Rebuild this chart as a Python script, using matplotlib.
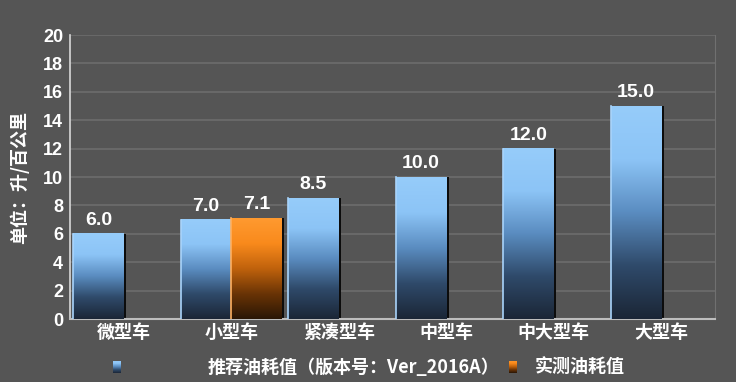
import numpy as np
import matplotlib
matplotlib.use("Agg")
import matplotlib.pyplot as plt
from matplotlib.colors import LinearSegmentedColormap
from matplotlib.patches import Rectangle

categories = ["微型车", "小型车", "紧凑型车", "中型车", "中大型车", "大型车"]
recommended = [6.0, 7.0, 8.5, 10.0, 12.0, 15.0]
measured = [None, 7.1, None, None, None, None]
series_names = ["推荐油耗值（版本号：Ver_2016A）", "实测油耗值"]
yticks = [0, 2, 4, 6, 8, 10, 12, 14, 16, 18, 20]
ylabel = "单位：升/百公里"

bg = "#555555"
cjk = ["Noto Sans CJK SC", "DejaVu Sans"]
num = ["Liberation Sans", "DejaVu Sans"]

blue_cmap = LinearSegmentedColormap.from_list(
    "b", ["#1b2636", "#2f4a6a", "#5a8cc0", "#8cc4f6", "#96ccfa"])
orange_cmap = LinearSegmentedColormap.from_list(
    "o", ["#2a1605", "#6a3406", "#c0620c", "#f98a1c", "#ff9a30"])

fig = plt.figure(figsize=(7.36, 3.82), dpi=100, facecolor=bg)
ax = fig.add_axes([70 / 736, 63 / 382, 645 / 736, 284 / 382])
ax.set_facecolor(bg)

x = np.arange(len(categories))
w = 0.47
grad = np.linspace(0, 1, 256).reshape(-1, 1)


def draw_bar(xc, h, cmap):
    left = xc - w / 2
    # shadow on the right side
    ax.add_patch(Rectangle((left + 0.025, 0), w, h, color="#0c0c0c",
                           zorder=2, linewidth=0))
    ax.imshow(grad, cmap=cmap, origin="lower", aspect="auto",
              extent=(left, left + w, 0, h), zorder=3)
    ax.plot([left, left], [0, h], color="#a9d4fb" if cmap is blue_cmap else "#ffb060",
            lw=1.2, zorder=4)
    ax.text(xc, h + 0.35, f"{h:.1f}", ha="center", va="bottom", color="white",
            fontsize=14, fontweight="bold", family=num, zorder=5)


for i, v in enumerate(recommended):
    draw_bar(x[i] - w / 2, v, blue_cmap)
for i, v in enumerate(measured):
    if v is not None:
        draw_bar(x[i] + w / 2, v, orange_cmap)

ax.set_xlim(-0.5, len(categories) - 0.5)
ax.set_ylim(0, 20)
ax.set_yticks(yticks)
ax.set_yticklabels([str(t) for t in yticks], color="white", fontsize=13,
                   fontweight="bold", family=num)
ax.set_xticks(x)
ax.set_xticklabels(categories, color="white", fontsize=13, fontweight="bold",
                   family=cjk)
ax.tick_params(length=0, pad=3)
ax.tick_params(axis="y", pad=5)
ax.yaxis.grid(True, color="#6c6c6c", lw=1.2, zorder=0)
ax.set_axisbelow(True)
ax.spines["top"].set_visible(False)
ax.spines["left"].set_color("#d8d8d8")
ax.spines["bottom"].set_color("#bdbdbd")
ax.spines["right"].set_color("#707070")
ax.spines["left"].set_linewidth(1.2)
ax.spines["bottom"].set_linewidth(1.5)

fig.text(19 / 736, 1 - 177 / 382, ylabel, rotation=90, ha="center", va="center",
         color="white", fontsize=13, fontweight="bold", family=cjk)

# legend
for (mx, tx, name, cmap) in [(113, 208, series_names[0], blue_cmap),
                             (509, 535, series_names[1], orange_cmap)]:
    lax = fig.add_axes([mx / 736, 1 - 373 / 382, 8 / 736, 12 / 382])
    lax.imshow(grad, cmap=cmap, origin="lower", aspect="auto")
    lax.axis("off")
    fig.text(tx / 736, 1 - 367 / 382, name, ha="left", va="center", color="white",
             fontsize=13, fontweight="bold", family=cjk)

fig.savefig("out.png", dpi=100, facecolor=bg)
